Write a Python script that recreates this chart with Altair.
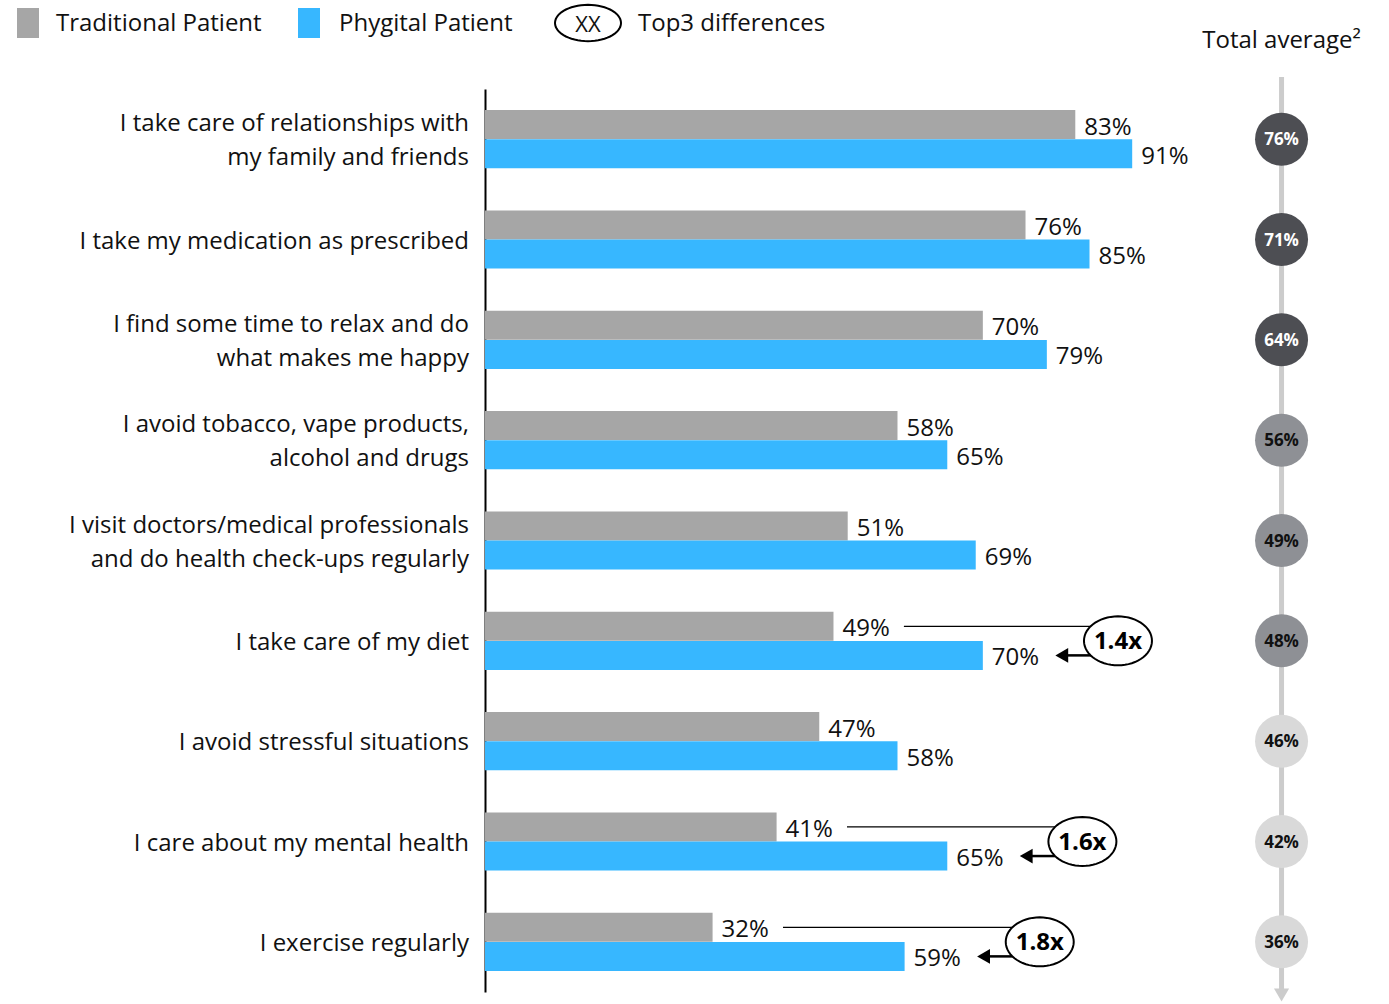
import math
import altair as alt
import pandas as pd

# ---------------- data ----------------
categories = [
    "I take care of relationships with\nmy family and friends",
    "I take my medication as prescribed",
    "I find some time to relax and do\nwhat makes me happy",
    "I avoid tobacco, vape products,\nalcohol and drugs",
    "I visit doctors/medical professionals\nand do health check-ups regularly",
    "I take care of my diet",
    "I avoid stressful situations",
    "I care about my mental health",
    "I exercise regularly",
]
traditional = [83, 76, 70, 58, 51, 49, 47, 41, 32]
phygital = [91, 85, 79, 65, 69, 70, 58, 65, 59]
total_average = [76, 71, 64, 56, 49, 48, 46, 42, 36]
average_tier = ["high", "high", "high", "mid", "mid", "mid", "low", "low", "low"]
top3_multiplier = ["", "", "", "", "", "1.4x", "", "1.6x", "1.8x"]
series_names = ["Traditional Patient", "Phygital Patient"]

# ---------------- styles ----------------
FONT = "Open Sans"
FS = 24
GRAY = "#a6a6a6"
BLUE = "#37b7ff"
TIER_COLORS = ["#4d4e53", "#8e9095", "#d9d9d9"]
TIER_TEXT = ["#ffffff", "#111111", "#111111"]
AVG_POS = 112  # x position (in % units) of the total-average column
W, H = 889, 903


def ellipse_path(ry, n=60):
    pts = []
    for k in range(n):
        a = 2 * math.pi * k / n
        pts.append(f"{math.cos(a):.4f} {ry * math.sin(a):.4f}")
    return "M " + " L ".join(pts) + " Z"


# ---------------- tables ----------------
bars = pd.DataFrame(
    [{"category": c, "series": series_names[0], "value": t} for c, t in zip(categories, traditional)]
    + [{"category": c, "series": series_names[1], "value": p} for c, p in zip(categories, phygital)]
)
rows = pd.DataFrame({
    "category": categories,
    "trad": traditional,
    "phy": phygital,
    "avg": total_average,
    "tier": average_tier,
    "mult": top3_multiplier,
})
top3 = rows[rows["mult"] != ""].copy()
top3["s_trad"] = series_names[0]
top3["s_phy"] = series_names[1]

Y = alt.Y(
    "category:N", sort=categories, title=None,
    scale=alt.Scale(paddingInner=0.42, paddingOuter=0.21),
    axis=alt.Axis(labels=False, ticks=False, grid=False, domain=True,
                  domainColor="#000000", domainWidth=2, title=None),
)
YO_SCALE = alt.Scale(domain=series_names, paddingInner=0, paddingOuter=0)
XS = alt.Scale(domain=[0, 125], nice=False, zero=True)

bar_layer = alt.Chart(bars).mark_bar(size=29).encode(
    x=alt.X("value:Q", scale=XS, axis=None),
    y=Y,
    yOffset=alt.YOffset("series:N", scale=YO_SCALE, sort=series_names),
    color=alt.Color("series:N", scale=alt.Scale(domain=series_names, range=[GRAY, BLUE]), legend=None),
)

value_labels = alt.Chart(bars).mark_text(
    align="left", baseline="middle", dx=9, dy=3, fontSize=FS, font=FONT, color="#111111"
).encode(
    x=alt.X("value:Q", scale=XS, axis=None),
    y=Y,
    yOffset=alt.YOffset("series:N", scale=YO_SCALE, sort=series_names),
    text=alt.Text("label:N"),
).transform_calculate(label="datum.value + '%'")

cat_labels_one = alt.Chart(rows).mark_text(
    align="right", baseline="middle", fontSize=FS, font=FONT, color="#111111",
    lineBreak="\n", lineHeight=34, dy=2,
).encode(
    x=alt.value(-16),
    y=Y,
    text="category:N",
).transform_filter("indexof(datum.category, '\\n') < 0")

cat_labels_two = alt.Chart(rows).mark_text(
    align="right", baseline="middle", fontSize=FS, font=FONT, color="#111111",
    lineBreak="\n", lineHeight=34, dy=-15,
).encode(
    x=alt.value(-16),
    y=Y,
    text="category:N",
).transform_filter("indexof(datum.category, '\\n') >= 0")

# annotations for top3 differences
connector = alt.Chart(top3).mark_rule(color="#000000", strokeWidth=1.3).encode(
    x=alt.X("x1:Q", scale=XS, axis=None),
    x2="x2:Q",
    y=Y,
    yOffset=alt.YOffset("s_trad:N", scale=YO_SCALE),
).transform_calculate(x1="datum.trad + 9.9", x2="datum.phy + 15.2")

arrow_line = alt.Chart(top3).mark_rule(color="#000000", strokeWidth=2.5).encode(
    x=alt.X("x1:Q", scale=XS, axis=None),
    x2="x2:Q",
    y=Y,
    yOffset=alt.YOffset("s_phy:N", scale=YO_SCALE),
).transform_calculate(x1="datum.phy + 11", x2="datum.phy + 15.2")

arrow_head = alt.Chart(top3).mark_point(
    shape="triangle-left", filled=True, color="#000000", size=220, opacity=1
).encode(
    x=alt.X("xa:Q", scale=XS, axis=None),
    y=Y,
    yOffset=alt.YOffset("s_phy:N", scale=YO_SCALE),
).transform_calculate(xa="datum.phy + 11.1")

ellipse = alt.Chart(top3).mark_point(
    shape=ellipse_path(0.72), size=68 * 68, filled=True, fill="#ffffff",
    stroke="#000000", strokeWidth=2, opacity=1
).encode(
    x=alt.X("xe:Q", scale=XS, axis=None),
    y=Y,
).transform_calculate(xe="datum.phy + 19")

mult_text = alt.Chart(top3).mark_text(
    fontSize=FS, fontWeight="bold", font=FONT, color="#000000", baseline="middle", dy=1
).encode(
    x=alt.X("xe:Q", scale=XS, axis=None),
    y=Y,
    text="mult:N",
).transform_calculate(xe="datum.phy + 19")

# total average column
one = pd.DataFrame({"k": [0]})
avg_line = alt.Chart(one).mark_rule(color="#cccccc", strokeWidth=5).encode(
    x=alt.datum(AVG_POS), y=alt.value(-12), y2=alt.value(901)
)
avg_arrow = alt.Chart(one).mark_point(
    shape="triangle-down", filled=True, color="#cccccc", size=230, opacity=1
).encode(x=alt.datum(AVG_POS), y=alt.value(906))

avg_circles = alt.Chart(rows).mark_circle(size=2809, opacity=1).encode(
    x=alt.datum(AVG_POS),
    y=Y,
    color=alt.Color("tier:N", scale=alt.Scale(domain=["high", "mid", "low"], range=TIER_COLORS), legend=None),
)
avg_text = alt.Chart(rows).mark_text(
    fontSize=17, fontWeight="bold", font=FONT, baseline="middle", dy=1
).encode(
    x=alt.datum(AVG_POS),
    y=Y,
    text=alt.Text("lbl:N"),
    color=alt.Color("tier2:N", scale=alt.Scale(domain=["th", "tm", "tl"], range=TIER_TEXT), legend=None),
).transform_calculate(
    lbl="datum.avg + '%'",
    tier2="'t' + substring(datum.tier, 0, 1)",
)

avg_header = alt.Chart(one).mark_text(
    fontSize=FS, font=FONT, color="#111111", baseline="middle"
).encode(x=alt.datum(AVG_POS), y=alt.value(-48), text=alt.value("Total average²"))

# legend (drawn manually)
leg_rect1 = alt.Chart(one).mark_rect(color=GRAY).encode(
    x=alt.value(-468), x2=alt.value(-446), y=alt.value(-81), y2=alt.value(-51))
leg_text1 = alt.Chart(one).mark_text(align="left", baseline="middle", fontSize=FS, font=FONT, color="#111111").encode(
    x=alt.value(-429), y=alt.value(-65), text=alt.value(series_names[0]))
leg_rect2 = alt.Chart(one).mark_rect(color=BLUE).encode(
    x=alt.value(-187), x2=alt.value(-165), y=alt.value(-81), y2=alt.value(-51))
leg_text2 = alt.Chart(one).mark_text(align="left", baseline="middle", fontSize=FS, font=FONT, color="#111111").encode(
    x=alt.value(-146), y=alt.value(-65), text=alt.value(series_names[1]))
leg_ell = alt.Chart(one).mark_point(
    shape=ellipse_path(0.55), size=66 * 66, filled=True, fill="#ffffff",
    stroke="#000000", strokeWidth=2, opacity=1
).encode(x=alt.value(103), y=alt.value(-66))
leg_xx = alt.Chart(one).mark_text(baseline="middle", fontSize=22, font=FONT, color="#111111").encode(
    x=alt.value(103), y=alt.value(-64), text=alt.value("XX"))
leg_text3 = alt.Chart(one).mark_text(align="left", baseline="middle", fontSize=FS, font=FONT, color="#111111").encode(
    x=alt.value(153), y=alt.value(-65), text=alt.value("Top3 differences"))

chart = alt.layer(
    bar_layer, value_labels, cat_labels_one, cat_labels_two,
    connector, arrow_line, arrow_head, ellipse, mult_text,
    avg_line, avg_arrow, avg_circles, avg_text, avg_header,
    leg_rect1, leg_text1, leg_rect2, leg_text2, leg_ell, leg_xx, leg_text3,
).resolve_scale(color="independent").properties(
    width=W, height=H,
    autosize=alt.AutoSizeParams(type="none"),
    padding={"left": 485, "top": 89, "right": 15, "bottom": 12},
).configure(font=FONT, view=alt.ViewConfig(stroke=None))

chart.save("out.html", embed_options={"renderer": "svg", "actions": False})
